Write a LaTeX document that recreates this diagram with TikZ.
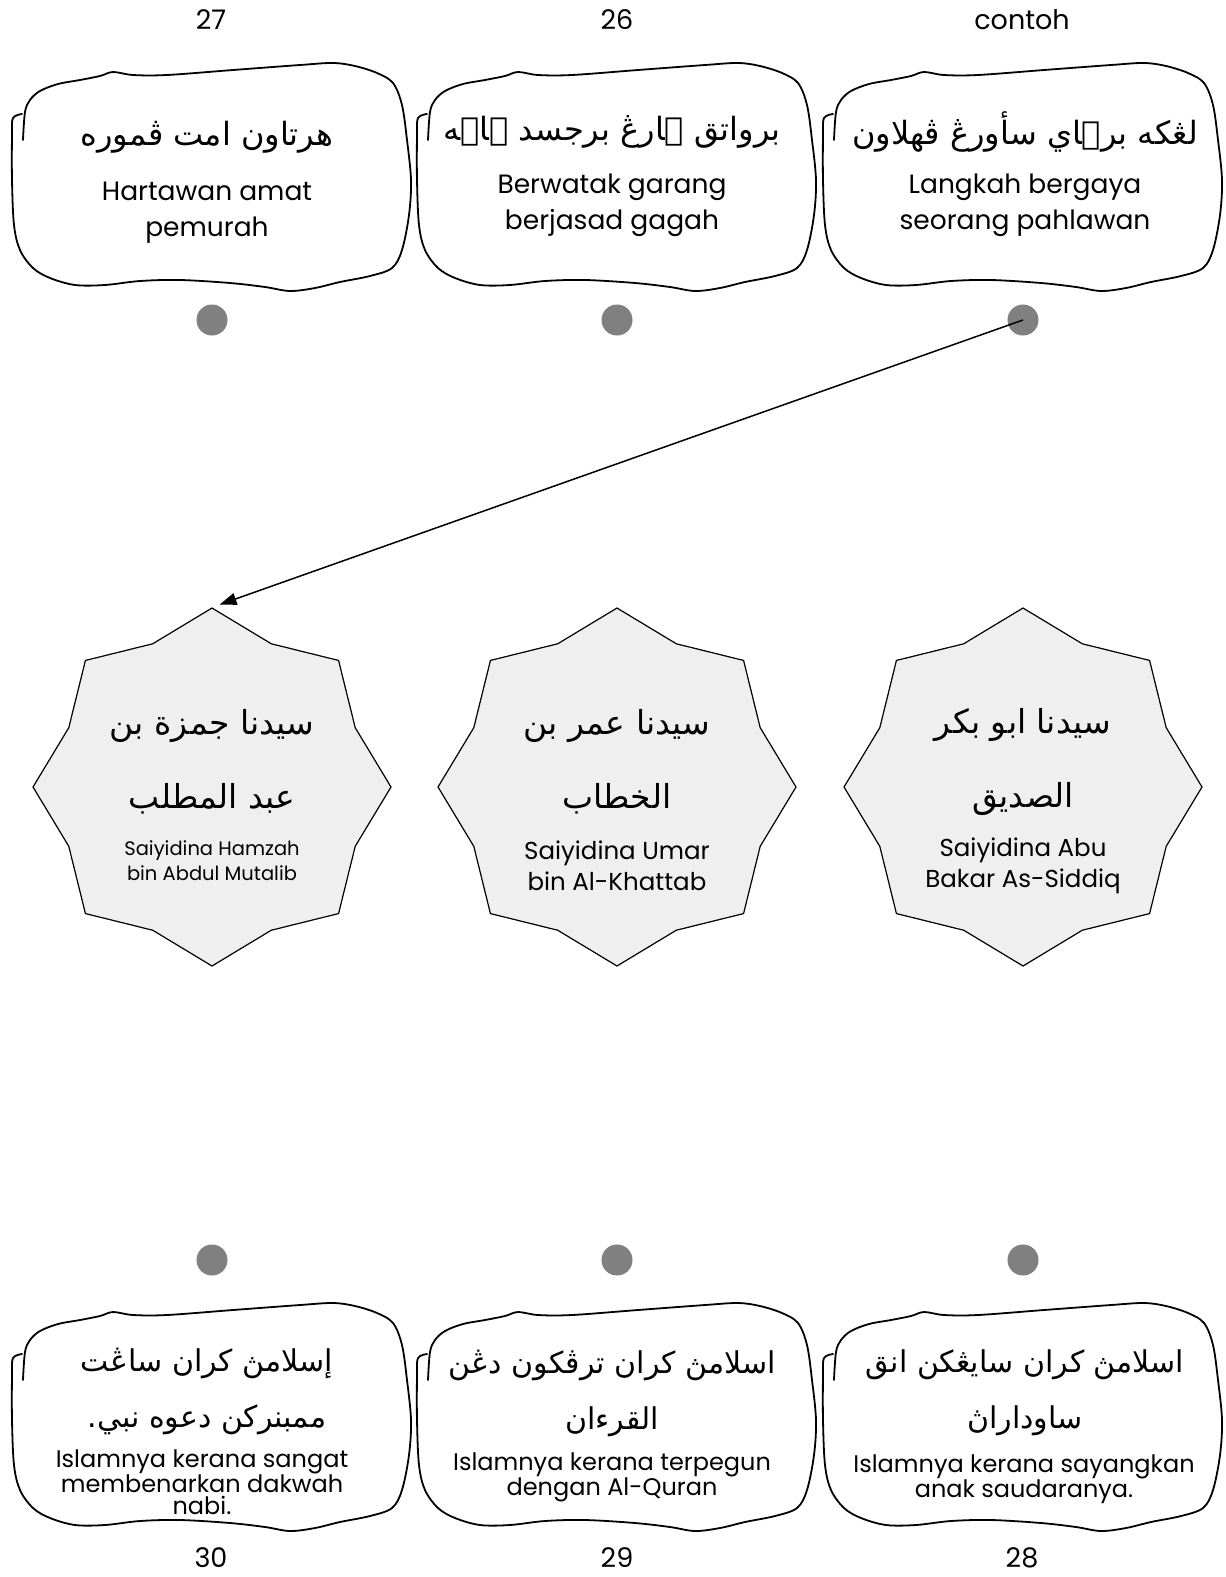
\documentclass[tikz,border=0pt]{standalone}
\usepackage{fontspec}
\setmainfont{Poppins}
\newfontfamily\arabicfont[Script=Arabic]{DejaVu Sans}
\TeXXeTstate=1
\usetikzlibrary{shapes.geometric,arrows.meta}
\definecolor{dotgray}{HTML}{808080}
\definecolor{starfill}{HTML}{EFEFEF}
\tikzset{
  boxline/.style={line width=1.8pt, line join=round, line cap=round},
  wavy/.pic={\draw[boxline] plot[smooth,tension=0.55] coordinates {
    (22,114) (13,118) (12,135) (12,180) (14,225) (20,250) (33,268) (50,278)
    (75,285) (105,285) (140,281) (180,280) (230,283) (265,287) (290,291)
    (315,288) (340,282) (370,276) (392,268) (402,250) (409,215) (411,180)
    (407,140) (402,105) (393,83) (377,73) (355,66) (333,63) (300,65)
    (233,70) (167,75) (133,75) (113,72) (100,76) (80,80) (58,84) (40,91)
    (30,100) (25,112) (23,140)};},
  dotnode/.style={circle, fill=dotgray, minimum size=31pt, inner sep=0pt},
  starnode/.style={star, star points=8, star point ratio=1.155, minimum size=358pt,
    draw, fill=starfill, line width=1.2pt, inner sep=0pt},
  numlabel/.style={font=\fontsize{27}{30}\selectfont},
  jawi/.style={font=\arabicfont\fontsize{32}{50}\selectfont, align=center},
  jawib/.style={font=\arabicfont\fontsize{30}{56}\selectfont, align=center},
  jawistar/.style={font=\arabicfont\fontsize{33}{74}\selectfont, align=center},
  latin/.style={font=\fontsize{26.5}{36}\selectfont, align=center},
  latintight/.style={font=\fontsize{24}{21.5}\selectfont, align=center},
  latinstar/.style={font=\fontsize{24.5}{31}\selectfont, align=center},
  latinsmall/.style={font=\fontsize{19.5}{25}\selectfont, align=center},
  arrowline/.style={line width=1.5pt, -{Triangle[length=17pt,width=12pt]}}
}
\begin{document}
\begin{tikzpicture}[x=1pt,y=-1pt]
\useasboundingbox (0,0) rectangle (1226,1577);
\fill[white] (0,0) rectangle (1226,1577);

% numbers
\node[numlabel] (n27) at (211,20) {27};
\node[numlabel] (n26) at (617,20) {26};
\node[numlabel] (nc) at (1022,20) {contoh};
\node[numlabel] (n30) at (211,1558) {30};
\node[numlabel] (n29) at (617,1558) {29};
\node[numlabel] (n28) at (1022,1558) {28};

% boxes
\pic at (0,0) {wavy};
\pic at (405,0) {wavy};
\pic at (811,0) {wavy};
\pic at (0,1240) {wavy};
\pic at (405,1240) {wavy};
\pic at (811,1240) {wavy};

% top texts
\node[jawi] (j27) at (207,137) {\beginR هرتاون امت ڤموره\endR};
\node[latin] (l27) at (207,213) {Hartawan amat\\pemurah};
\node[jawi] (j26) at (612,132) {\beginR برواتق ݢارڠ برجسد ݢاݢه\endR};
\node[latin] (l26) at (612,205) {Berwatak garang\\berjasad gagah};
\node[jawi] (jc) at (1025,132) {\beginR لڠكه برݢاي سأورڠ ڤهلاون\endR};
\node[latin] (lc) at (1025,205) {Langkah bergaya\\seorang pahlawan};

% dots
\node[dotnode] (d27) at (212,320) {};
\node[dotnode] (d26) at (617,320) {};
\node[dotnode] (dc) at (1023,320) {};
\node[dotnode] (d30) at (212,1260) {};
\node[dotnode] (d29) at (617,1260) {};
\node[dotnode] (d28) at (1023,1260) {};

% stars
\node[starnode] (s1) at (212,787) {};
\node[starnode] (s2) at (617,787) {};
\node[starnode] (s3) at (1023,787) {};
\node[jawistar] (js1) at (212,762) {\beginR سيدنا جمزة بن\endR\\\beginR عبد المطلب\endR};
\node[latinsmall] (ls1) at (212,861) {Saiyidina Hamzah\\bin Abdul Mutalib};
\node[jawistar] (js2) at (617,762) {\beginR سيدنا عمر بن\endR\\\beginR الخطاب\endR};
\node[latinstar] (ls2) at (617,866) {Saiyidina Umar\\bin Al-Khattab};
\node[jawistar] (js3) at (1023,762) {\beginR سيدنا ابو بكر\endR\\\beginR الصديق\endR};
\node[latinstar] (ls3) at (1023,866) {Saiyidina Abu\\Bakar As-Siddiq};

% arrow
\draw[arrowline, shorten >=8pt] (dc.center) -- (s1.north);

% bottom texts
\node[jawib] (j30) at (207,1391) {\beginR إسلامڽ كران ساڠت\endR\\\beginR ممبنركن دعوه نبي.\endR};
\node[latintight] (l30) at (202,1482) {Islamnya kerana sangat\\membenarkan dakwah\\nabi.};
\node[jawib] (j29) at (612,1393) {\beginR اسلامڽ كران ترڤكون دڠن\endR\\\beginR القرءان\endR};
\node[latintight] (l29) at (612,1477) {Islamnya kerana terpegun\\dengan Al-Quran};
\node[jawib] (j28) at (1025,1393) {\beginR اسلامڽ كران سايڠكن انق\endR\\\beginR ساوداراڽ\endR};
\node[latintight] (l28) at (1024,1479) {Islamnya kerana sayangkan\\anak saudaranya.};
\end{tikzpicture}
\end{document}
